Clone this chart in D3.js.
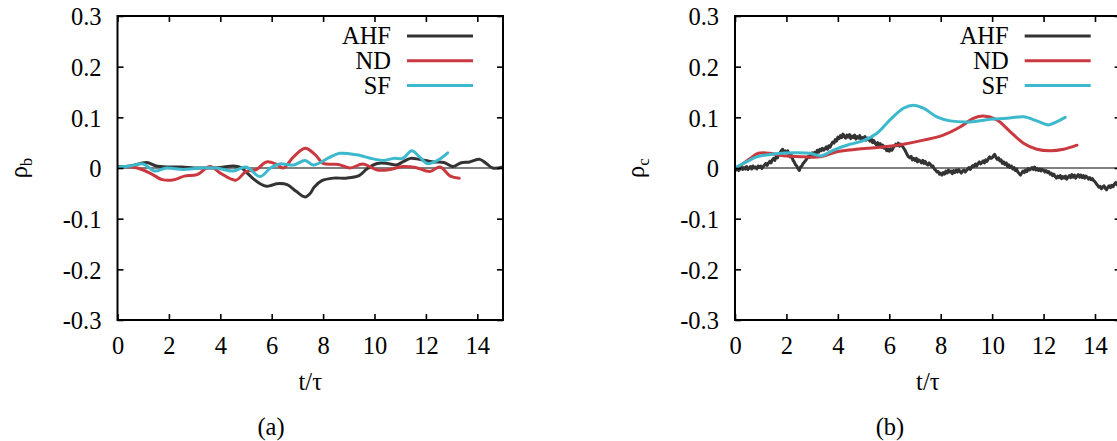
<!DOCTYPE html>
<html>
<head>
<meta charset="utf-8">
<script src="https://cdn.jsdelivr.net/npm/d3@7"></script>
<style>
  html, body { margin: 0; padding: 0; background: #fff; }
  svg { display: block; }
  text { font-family: "Liberation Serif", "Times New Roman", "DejaVu Serif", serif; fill: #000; }
</style>
</head>
<body>
<svg id="fig" width="1117" height="441"></svg>
<script>
// ---- axis settings ----
const xDomain = [0, 15];
const yDomain = [-0.3, 0.3];
const xTickValues = [0, 2, 4, 6, 8, 10, 12, 14];
const yTickValues = [-0.3, -0.2, -0.1, 0, 0.1, 0.2, 0.3];
const yTickLabels = ["-0.3", "-0.2", "-0.1", "0", "0.1", "0.2", "0.3"];

const seriesNames = ["AHF", "ND", "SF"];
const seriesColors = ["#333333", "#c9393f", "#3cb9cc"];

// ---- panel (a): rho_b, [t/tau, value] ----
const ahfB = [[0,0.003],[0.5,0.004],[0.9,0.009],[1.15,0.011],[1.5,0.004],[2.0,0.002],[2.5,0.002],[3.0,0.000],[3.5,0.000],[4.0,0.001],[4.5,0.004],[4.8,0.001],[5.05,-0.010],[5.3,-0.022],[5.55,-0.031],[5.8,-0.036],[6.0,-0.034],[6.2,-0.031],[6.6,-0.033],[6.95,-0.046],[7.3,-0.057],[7.5,-0.050],[7.65,-0.038],[7.95,-0.025],[8.4,-0.020],[8.9,-0.020],[9.4,-0.015],[9.7,-0.002],[10.1,0.009],[10.5,0.009],[10.85,0.006],[11.1,0.012],[11.4,0.019],[11.75,0.017],[12.3,0.012],[12.7,0.011],[13.05,0.003],[13.35,0.010],[13.7,0.012],[14.1,0.017],[14.35,0.009],[14.6,0.000],[15,0.002]];
const ndB = [[0,0.003],[0.6,0.002],[1.0,-0.004],[1.3,-0.011],[1.75,-0.023],[2.2,-0.023],[2.6,-0.016],[3.1,-0.013],[3.6,0.003],[4.0,-0.010],[4.6,-0.024],[5.0,-0.007],[5.4,-0.003],[5.8,0.012],[6.2,0.007],[6.45,0.000],[6.85,0.022],[7.3,0.039],[7.7,0.026],[8.0,0.009],[8.6,0.007],[9.05,0.000],[9.55,0.008],[10.1,-0.004],[10.6,-0.003],[11.1,0.003],[11.6,0.001],[12.15,-0.007],[12.55,0.002],[12.95,-0.016],[13.3,-0.020]];
const sfB = [[0,0.002],[0.5,0.004],[1.0,0.008],[1.45,-0.006],[1.9,0.000],[2.55,-0.003],[3.2,0.000],[3.85,0.000],[4.5,-0.006],[5.0,0.002],[5.55,-0.017],[5.95,0.000],[6.3,0.008],[6.85,0.006],[7.3,0.015],[7.62,0.006],[8.25,0.021],[8.65,0.029],[9.3,0.026],[9.95,0.018],[10.35,0.015],[10.75,0.019],[11.1,0.019],[11.45,0.034],[11.75,0.022],[12.05,0.009],[12.45,0.015],[12.85,0.030]];

// ---- panel (b): rho_c ----
// AHF is sampled every 0.05 t/tau from 0 to 15 (one row per unit of t/tau)
const ahfCStep = 0.05;
const ahfCValues = [
 -0.002,-0.004,0.000,-0.005,-0.001,0.002,-0.003,0.001,-0.002,0.003,-0.003,0.000,0.003,-0.002,0.004,0.000,0.002,-0.002,0.004,0.001,
  0.004,-0.001,0.003,0.006,0.009,0.005,0.010,0.013,0.010,0.016,0.019,0.015,0.023,0.020,0.026,0.030,0.034,0.037,0.031,0.034,
  0.030,0.034,0.026,0.022,0.025,0.016,0.012,0.007,0.004,-0.001,-0.005,0.002,0.004,0.009,0.012,0.015,0.019,0.023,0.021,0.027,
  0.030,0.026,0.031,0.028,0.035,0.031,0.037,0.034,0.039,0.035,0.038,0.042,0.037,0.044,0.041,0.047,0.051,0.049,0.056,0.053,
  0.061,0.058,0.064,0.060,0.067,0.062,0.059,0.065,0.061,0.066,0.058,0.063,0.060,0.065,0.057,0.062,0.059,0.064,0.056,0.060,
  0.058,0.062,0.055,0.059,0.056,0.053,0.058,0.050,0.054,0.049,0.046,0.050,0.044,0.048,0.041,0.045,0.039,0.042,0.034,0.037,
  0.033,0.038,0.035,0.040,0.043,0.047,0.044,0.049,0.043,0.047,0.044,0.040,0.036,0.031,0.026,0.022,0.020,0.023,0.016,0.019,
  0.015,0.019,0.012,0.016,0.014,0.010,0.015,0.009,0.013,0.008,0.006,0.010,0.007,0.003,0.004,-0.002,-0.004,-0.008,-0.007,-0.012,
 -0.010,-0.014,-0.009,-0.012,-0.006,-0.010,-0.004,-0.008,-0.006,-0.011,-0.005,-0.009,-0.004,-0.008,-0.003,-0.007,-0.010,-0.006,-0.004,-0.008,
 -0.005,-0.002,0.001,-0.003,0.002,0.005,0.003,0.008,0.004,0.009,0.012,0.008,0.011,0.014,0.010,0.016,0.013,0.018,0.022,0.019,
  0.020,0.024,0.027,0.021,0.017,0.020,0.014,0.016,0.009,0.012,0.007,0.010,0.003,0.006,0.001,0.004,-0.002,0.001,-0.005,-0.002,
 -0.008,-0.011,-0.014,-0.010,-0.006,-0.009,-0.004,-0.007,-0.001,-0.004,-0.002,0.001,-0.003,0.002,-0.004,-0.001,-0.005,-0.002,-0.006,-0.003,
 -0.004,-0.008,-0.005,-0.009,-0.007,-0.012,-0.010,-0.015,-0.012,-0.017,-0.020,-0.016,-0.019,-0.015,-0.021,-0.017,-0.020,-0.016,-0.022,-0.018,
 -0.015,-0.019,-0.013,-0.018,-0.014,-0.020,-0.016,-0.013,-0.018,-0.014,-0.019,-0.015,-0.020,-0.016,-0.018,-0.022,-0.019,-0.023,-0.021,-0.025,
 -0.027,-0.031,-0.034,-0.038,-0.036,-0.041,-0.038,-0.035,-0.040,-0.043,-0.038,-0.035,-0.039,-0.034,-0.037,-0.032,-0.029,-0.033,-0.027,-0.030,
 -0.026
];
const ndC = [[0,0.000],[0.3,0.008],[0.59,0.019],[0.91,0.029],[1.36,0.029],[1.88,0.024],[2.66,0.022],[3.3,0.022],[3.96,0.032],[4.73,0.037],[5.64,0.041],[6.55,0.047],[7.33,0.055],[8.1,0.065],[8.75,0.081],[9.27,0.098],[9.66,0.1025],[10.18,0.095],[10.7,0.072],[11.22,0.049],[11.74,0.037],[12.26,0.034],[12.78,0.037],[13.3,0.045]];
const sfC = [[0,0.000],[0.46,0.0125],[0.84,0.022],[1.49,0.0275],[2.4,0.030],[2.92,0.029],[3.37,0.024],[3.83,0.0355],[4.35,0.045],[4.99,0.054],[5.51,0.068],[6.03,0.095],[6.55,0.118],[6.94,0.124],[7.33,0.118],[7.85,0.101],[8.37,0.093],[9.14,0.091],[9.92,0.096],[10.57,0.098],[11.22,0.101],[11.74,0.093],[12.19,0.085],[12.5,0.091],[12.84,0.100]];

const ahfC = ahfCValues.map((v, i) => [i * ahfCStep, v]);

const panels = [
  { id: "a", left: 117.5, right: 503, yName: "ρ", ySub: "b", caption: "(a)", captionX: 271,
    series: [ {data: ahfB, curve: d3.curveCatmullRom}, {data: ndB, curve: d3.curveCatmullRom}, {data: sfB, curve: d3.curveCatmullRom} ] },
  { id: "b", left: 735, right: 1120.7, yName: "ρ", ySub: "c", caption: "(b)", captionX: 890,
    series: [ {data: ahfC, curve: d3.curveLinear}, {data: ndC, curve: d3.curveCatmullRom}, {data: sfC, curve: d3.curveCatmullRom} ] }
];

const plotTop = 16, plotBottom = 320;
const svg = d3.select("#fig");
const fontSize = 24.5;

panels.forEach(p => {
  const x = d3.scaleLinear().domain(xDomain).range([p.left, p.right]);
  const y = d3.scaleLinear().domain(yDomain).range([plotBottom, plotTop]);
  const g = svg.append("g").attr("class", "panel-" + p.id);

  const clipId = "clip-" + p.id;
  svg.append("defs").append("clipPath").attr("id", clipId)
    .append("rect").attr("x", p.left).attr("y", plotTop)
    .attr("width", p.right - p.left).attr("height", plotBottom - plotTop);

  // zero reference line
  g.append("line")
    .attr("x1", x(xDomain[0])).attr("x2", x(xDomain[1]))
    .attr("y1", y(0)).attr("y2", y(0))
    .attr("stroke", "#000").attr("stroke-width", 1.2);

  // data curves
  const lines = g.append("g").attr("clip-path", `url(#${clipId})`);
  p.series.forEach((s, i) => {
    const line = d3.line().x(d => x(d[0])).y(d => y(d[1])).curve(s.curve);
    lines.append("path")
      .attr("d", line(s.data))
      .attr("fill", "none")
      .attr("stroke", seriesColors[i])
      .attr("stroke-width", 3)
      .attr("stroke-linejoin", "round")
      .attr("stroke-linecap", "round");
  });

  // axes with inward ticks on all four sides
  const styleAxis = sel => {
    sel.select(".domain").remove();
    sel.selectAll(".tick line").attr("stroke", "#000").attr("stroke-width", 1.6);
    sel.selectAll(".tick text").attr("font-size", fontSize)
      .attr("font-family", '"Liberation Serif", "Times New Roman", serif').attr("fill", "#000");
  };
  g.append("g").attr("transform", `translate(0,${plotBottom})`)
    .call(d3.axisBottom(x).tickValues(xTickValues).tickSizeInner(-6).tickSizeOuter(0).tickPadding(17).tickFormat(d3.format("d")))
    .call(styleAxis);
  g.append("g").attr("transform", `translate(0,${plotTop})`)
    .call(d3.axisTop(x).tickValues(xTickValues).tickSizeInner(-6).tickSizeOuter(0).tickFormat(""))
    .call(styleAxis);
  g.append("g").attr("transform", `translate(${p.left},0)`)
    .call(d3.axisLeft(y).tickValues(yTickValues).tickSizeInner(-6).tickSizeOuter(0).tickPadding(16)
      .tickFormat((d, i) => yTickLabels[i]))
    .call(styleAxis)
    .selectAll(".tick text").attr("dy", "0.36em");
  g.append("g").attr("transform", `translate(${p.right},0)`)
    .call(d3.axisRight(y).tickValues(yTickValues).tickSizeInner(-6).tickSizeOuter(0).tickFormat(""))
    .call(styleAxis);

  // frame
  g.append("rect")
    .attr("x", p.left).attr("y", plotTop)
    .attr("width", p.right - p.left).attr("height", plotBottom - plotTop)
    .attr("fill", "none").attr("stroke", "#000").attr("stroke-width", 2);

  // legend
  seriesNames.forEach((name, i) => {
    const ly = 36 + i * 24.8;
    g.append("text")
      .attr("x", p.right - 112).attr("y", ly).attr("dy", "0.34em")
      .attr("text-anchor", "end").attr("font-size", fontSize).text(name);
    g.append("line")
      .attr("x1", p.right - 96).attr("x2", p.right - 30)
      .attr("y1", ly).attr("y2", ly)
      .attr("stroke", seriesColors[i]).attr("stroke-width", 3);
  });

  // axis titles
  const midX = (p.left + p.right) / 2;
  g.append("text").attr("x", midX).attr("y", 390)
    .attr("text-anchor", "middle").attr("font-size", fontSize).text("t/τ");

  const yl = g.append("text")
    .attr("transform", `translate(${p.left - 91},${y(0)}) rotate(-90)`)
    .attr("text-anchor", "middle").attr("font-size", fontSize);
  yl.append("tspan").text(p.yName);
  yl.append("tspan").attr("font-size", 17).attr("dy", 5).text(p.ySub);

  // sub-figure caption
  g.append("text").attr("x", p.captionX).attr("y", 435)
    .attr("text-anchor", "middle").attr("font-size", fontSize).text(p.caption);
});
</script>
</body>
</html>
